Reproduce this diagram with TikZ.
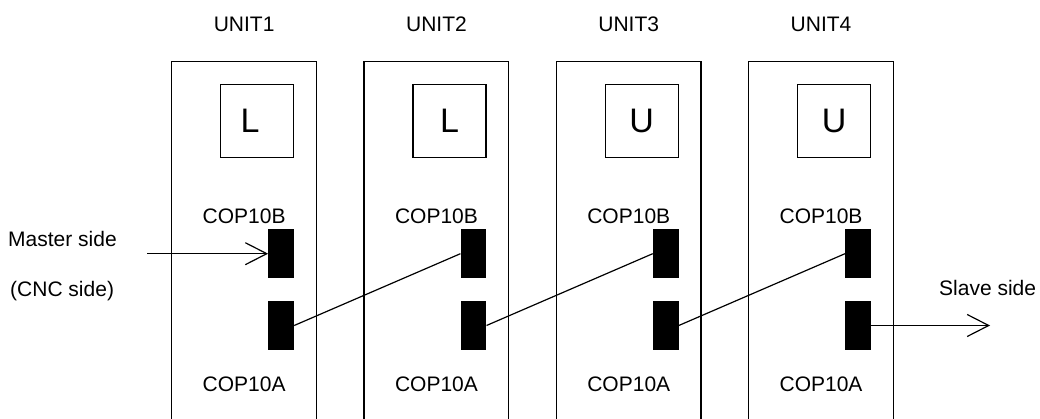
\documentclass[tikz,border=0pt]{standalone}
\usepackage{fontspec}
\setmainfont{Liberation Sans}
\usetikzlibrary{arrows.meta}
\begin{document}
\begin{tikzpicture}[x=1pt,y=-1pt,
  unitframe/.style={minimum width=144.3pt, minimum height=363.5pt, inner sep=0pt, anchor=north},
  frameline/.style={line width=1.3pt},
  letterbox/.style={draw, line width=1.3pt, minimum size=73pt, inner sep=0pt, font=\fontsize{34}{40}\selectfont},
  port/.style={fill=black, minimum width=25.7pt, minimum height=49.3pt, inner sep=0pt},
  lbl/.style={font=\fontsize{21}{25}\selectfont, anchor=base, inner sep=0pt},
  wire/.style={line width=1.2pt},
  tip/.style={-{Straight Barb[length=21.5pt,width=22pt]}}
]
\useasboundingbox (0,0) rectangle (1040,419);
\foreach \i/\ltr/\sh in {1/L/14,2/L/0,3/U/0,4/U/0}{
  \pgfmathsetmacro{\cx}{244.15+192.3*(\i-1)}
  \node[unitframe] (u\i) at (\cx,61.5) {};
  \draw[frameline] (u\i.south west) |- (u\i.north east) -- (u\i.south east);
  \node[lbl] (t\i) at (\cx,31.7) {UNIT\i};
  \node[letterbox] (k\i) at (\cx+13,121.3) {\ltr\hspace*{\sh pt}};
  \node[lbl] (b\i) at (\cx,223.3) {COP10B};
  \node[lbl] (a\i) at (\cx,391.7) {COP10A};
  \node[port] (pb\i) at (\cx+37,253.7) {};
  \node[port] (pa\i) at (\cx+37,325.5) {};
}
\draw[wire] (pa1.east) -- (pb2.west);
\draw[wire] (pa2.east) -- (pb3.west);
\draw[wire] (pa3.east) -- (pb4.west);
\coordinate (m) at (147,253.7);
\draw[wire,tip] (m) -- (pb1.west);
\coordinate (s) at (990,325.5);
\draw[wire,tip] (pa4.east) -- (s);
\node[lbl, anchor=base west] (ms) at (8,246.7) {Master side};
\node[lbl, anchor=base west] (cs) at (10,296.7) {(CNC side)};
\node[lbl, anchor=base west] (ss) at (939,295) {Slave side};
\end{tikzpicture}
\end{document}
